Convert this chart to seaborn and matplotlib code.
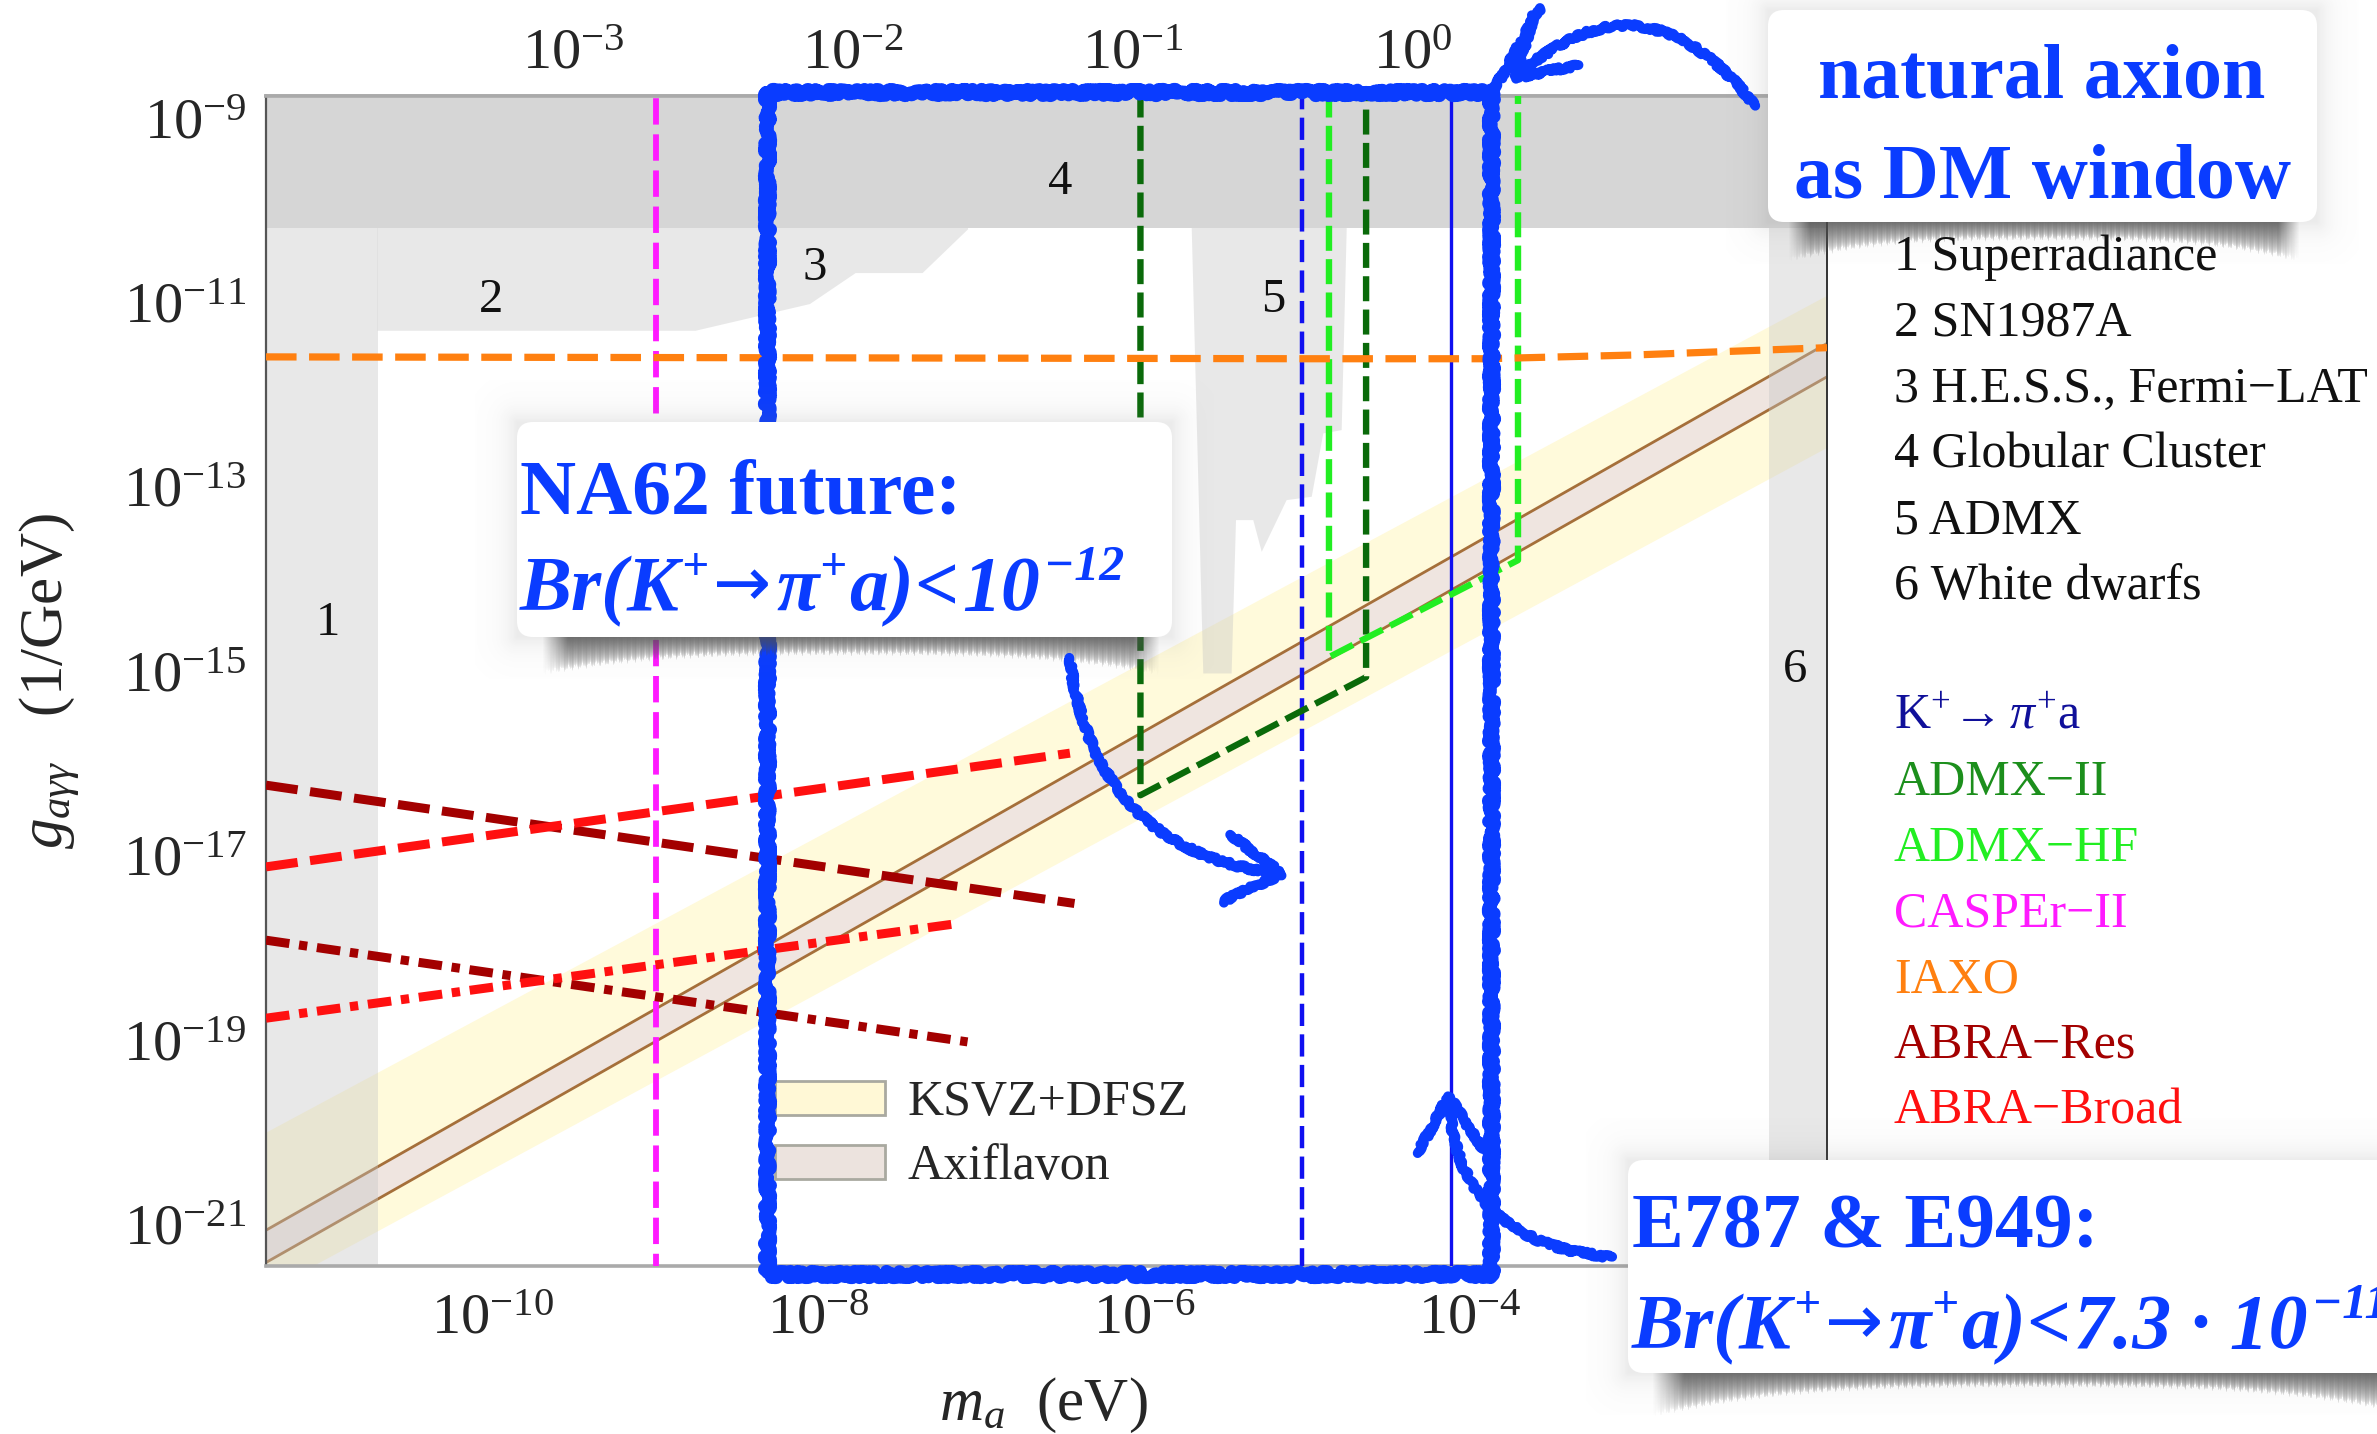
import numpy as np
import matplotlib
matplotlib.use("Agg")
import matplotlib.pyplot as plt
import seaborn as sns
from matplotlib.patches import FancyBboxPatch, FancyArrowPatch, Patch

# ---------------------------------------------------------------------------
# Data: exponents (log10) of the axion mass m_a [eV] and coupling g [1/GeV]
# ---------------------------------------------------------------------------
m_range_exp = [-11.394, -1.806]
g_range_exp = [-21.448, -8.761]

superradiance_m_exp = -10.709
globular_g_exp = -10.196
white_dwarf_m_exp = -2.162

sn1987a_m_exp = [-10.709, -10.709, -8.756]
sn1987a_g_exp = [-8.0, -11.307, -11.307]
hess_fermi_m_exp = [-8.053, -7.772, -7.361, -7.082, -7.082]
hess_fermi_g_exp = [-11.017, -10.681, -10.681, -10.207, -8.0]

admx_m_exp = [-5.708, -5.708, -5.637, -5.463, -5.436, -5.330, -5.278,
              -5.125, -4.971, -4.900, -4.787, -4.756, -4.756]
admx_g_exp = [-8.0, -10.196, -15.023, -15.023, -13.360, -13.360, -13.704,
              -13.143, -13.107, -12.420, -12.384, -10.196, -8.0]

band_m_exp = [-11.394, -1.806]
ksvz_upper_g_exp = [-19.995, -10.920]
ksvz_lower_g_exp = [-21.719, -12.569]
axiflavon_upper_g_exp = [-21.060, -11.444]
axiflavon_lower_g_exp = [-21.410, -11.806]

kpi_na62_m_exp = -5.033
kpi_e949_m_exp = -4.118
casper_m_exp = -9.0
admx2_m_exp = [-6.023, -6.023, -4.637, -4.637]
admx2_g_exp = [-8.0, -16.343, -15.063, -8.0]
admxhf_m_exp = [-4.865, -4.865, -3.704, -3.704]
admxhf_g_exp = [-8.0, -14.846, -13.794, -8.0]
iaxo_m_exp = [-11.394, -8.0, -5.0, -3.9, -3.0, -2.4, -1.806]
iaxo_g_exp = [-11.59, -11.60, -11.61, -11.61, -11.57, -11.53, -11.49]
abra_res_m_exp = [-11.394, -6.428]
abra_res_g_exp = [-16.234, -17.517]
abra_res_low_m_exp = [-11.394, -7.085]
abra_res_low_g_exp = [-17.915, -19.018]
abra_broad_m_exp = [-11.394, -6.456]
abra_broad_g_exp = [-17.120, -15.887]
abra_broad_low_m_exp = [-11.394, -7.132]
abra_broad_low_g_exp = [-18.761, -17.731]

region_labels = ["1", "2", "3", "4", "5", "6"]
region_label_m_exp = [-11.014, -10.012, -8.022, -6.517, -5.209, -2.002]
region_label_g_exp = [-14.477, -10.974, -10.627, -9.694, -10.974, -14.987]

window_m_exp = [-8.317, -3.870]
window_g_exp = [-8.718, -21.538]

bottom_ticks_exp = [-10, -8, -6, -4]
left_ticks_exp = [-9, -11, -13, -15, -17, -19, -21]
top_ticks_exp = [-3, -2, -1, 0]
top_axis_ref = (-9.509, -3.0)   # bottom exponent that lines up with top 10^-3
top_axis_decade = 1.72          # bottom decades per top decade

bounds_names = ["1 Superradiance", "2 SN1987A", "3 H.E.S.S., Fermi\u2212LAT",
                "4 Globular Cluster", "5 ADMX", "6 White dwarfs"]
exp_names = [r"K$^{+}\!\rightarrow\pi^{+}$a", "ADMX\u2212II", "ADMX\u2212HF",
             "CASPEr\u2212II", "IAXO", "ABRA\u2212Res", "ABRA\u2212Broad"]
exp_colors = ["#10109a", "#1c8f1c", "#22ee22", "#ff1aff", "#ff8010",
              "#a30000", "#ff1010"]


def E(a):
    return 10.0 ** np.asarray(a, dtype=float)


# ---------------------------------------------------------------------------
sns.set_theme(style="white")
plt.rcParams["font.family"] = ["Liberation Serif", "DejaVu Serif"]
plt.rcParams["mathtext.fontset"] = "custom"
plt.rcParams["mathtext.rm"] = "Liberation Serif"
plt.rcParams["mathtext.it"] = "Liberation Serif:italic"
plt.rcParams["mathtext.bf"] = "Liberation Serif:bold"
plt.rcParams["lines.scale_dashes"] = False

W, H = 2377, 1434
fig = plt.figure(figsize=(W / 100, H / 100), dpi=100, facecolor="white")
ax = fig.add_axes([266 / W, 1 - 1266 / H, (1827 - 266) / W, (1266 - 96) / H])
ax.set_xscale("log")
ax.set_yscale("log")
xlim = tuple(E(m_range_exp))
ylim = tuple(E(g_range_exp))


def seaborn_line(mx, gy, color, lw, dashes=None, z=3, clip=True, cap="butt"):
    sns.lineplot(x=E(mx), y=E(gy), ax=ax, color=color, linewidth=lw,
                 estimator=None, sort=False, legend=False)
    ln = ax.lines[-1]
    if dashes is not None:
        ln.set_linestyle((0, dashes))
    ln.set_zorder(z)
    ln.set_clip_on(clip)
    ln.set_dash_capstyle(cap)
    ln.set_solid_capstyle(cap)
    return ln


# benchmark bands
mb = E(band_m_exp)
ax.fill_between(mb, E(ksvz_lower_g_exp), E(ksvz_upper_g_exp),
                color="#fffadb", lw=0, zorder=1)
ax.fill_between(mb, E(axiflavon_lower_g_exp), E(axiflavon_upper_g_exp),
                color="#efe5e0", lw=0, zorder=1.1)
seaborn_line(band_m_exp, axiflavon_upper_g_exp, "#a56f3a", 2.0, z=1.2)
seaborn_line(band_m_exp, axiflavon_lower_g_exp, "#a56f3a", 2.0, z=1.2)

# excluded regions
gray = "#c4c4c4"
ga = 0.38
ax.axvspan(xlim[0], 10 ** superradiance_m_exp, color=gray, alpha=ga, lw=0, zorder=1.5)
ax.axvspan(10 ** white_dwarf_m_exp, xlim[1], color=gray, alpha=ga, lw=0, zorder=1.5)
ax.fill(E(sn1987a_m_exp + hess_fermi_m_exp), E(sn1987a_g_exp + hess_fermi_g_exp),
        color=gray, alpha=ga, lw=0, zorder=1.5)
ax.fill(E(admx_m_exp), E(admx_g_exp), color=gray, alpha=ga, lw=0, zorder=1.5)
ax.axhspan(10 ** globular_g_exp, 1e-8, color="#d6d6d6", lw=0, zorder=1.6)

# sensitivity lines
top = [-8.0, -23.0]
seaborn_line([casper_m_exp] * 2, top, "#ff1aff", 4.2, (19, 7))
seaborn_line([kpi_na62_m_exp] * 2, top, "#1010f0", 3.2, (16, 6))
seaborn_line([kpi_e949_m_exp] * 2, top, "#1010f0", 2.4)
seaborn_line(admx2_m_exp, admx2_g_exp, "#0a6a0a", 4.6, (18, 6))
seaborn_line(admxhf_m_exp, admxhf_g_exp, "#22ee22", 4.6, (18, 6))
seaborn_line(iaxo_m_exp, iaxo_g_exp, "#ff8010", 5.2, (22, 9))
seaborn_line(abra_res_m_exp, abra_res_g_exp, "#a30000", 6.5, (23, 9))
seaborn_line(abra_res_low_m_exp, abra_res_low_g_exp, "#a30000", 6.5, (17, 7, 6, 7))
seaborn_line(abra_broad_m_exp, abra_broad_g_exp, "#ff1010", 6.5, (23, 9))
seaborn_line(abra_broad_low_m_exp, abra_broad_low_g_exp, "#ff1010", 6.5, (17, 7, 6, 7))

for t, mx, gy in zip(region_labels, region_label_m_exp, region_label_g_exp):
    ax.text(10 ** mx, 10 ** gy, t, ha="center", va="center", fontsize=35,
            color="#111111", zorder=4)

ax.set_xlim(*xlim)
ax.set_ylim(*ylim)

# frame and ticks
for side, col, lw in [("left", "#555555", 1.6), ("right", "#333333", 1.4),
                      ("top", "#aaaaaa", 2.6), ("bottom", "#aaaaaa", 2.6)]:
    ax.spines[side].set_color(col)
    ax.spines[side].set_linewidth(lw)
ax.set_xticks(E(bottom_ticks_exp))
ax.set_xticklabels([rf"$10^{{{e}}}$" for e in bottom_ticks_exp])
ax.set_yticks(E(left_ticks_exp))
ax.set_yticklabels([rf"$10^{{{e}}}$" for e in left_ticks_exp])
ax.minorticks_off()
ax.tick_params(axis="x", which="major", direction="in", length=11, width=1.1,
               color="#444444", labelsize=42, pad=20, top=False)
ax.tick_params(axis="y", which="major", direction="in", length=11, width=1.1,
               color="#888888", labelsize=42, pad=14, right=False)


def to_top(m):
    lm = np.log10(np.clip(np.asarray(m, dtype=float), 1e-300, None))
    return 10 ** (top_axis_ref[1] + (lm - top_axis_ref[0]) / top_axis_decade)


def from_top(f):
    lf = np.log10(np.clip(np.asarray(f, dtype=float), 1e-300, None))
    return 10 ** (top_axis_ref[0] + (lf - top_axis_ref[1]) * top_axis_decade)


sec = ax.secondary_xaxis("top", functions=(to_top, from_top))
sec.set_xticks(E(top_ticks_exp))
sec.set_xticklabels([rf"$10^{{{e}}}$" for e in top_ticks_exp])
sec.minorticks_off()
sec.tick_params(axis="x", which="major", direction="in", length=11, width=1.1,
                color="#444444", labelsize=42, pad=11)
sec.spines["top"].set_color("#aaaaaa")
sec.spines["top"].set_linewidth(2.6)

ax.set_xlabel(r"$m_a$  (eV)", fontsize=44)
ax.xaxis.set_label_coords(0.498, -0.094)
ax.set_ylabel(r"$g_{a\gamma\gamma}$   (1/GeV)", fontsize=44)
ax.yaxis.set_label_coords(-0.118, 0.5)

leg = ax.legend(
    [Patch(facecolor="#fff8d6", edgecolor="#a9a9a0", lw=2.0),
     Patch(facecolor="#ece3de", edgecolor="#a9a9a0", lw=2.0)],
    ["KSVZ+DFSZ", "Axiflavon"], loc="upper left",
    bbox_to_anchor=((775 - 266) / 1561, 1 - (1080 - 96) / 1170),
    frameon=False, fontsize=36, handlelength=2.2, handleheight=0.65,
    handletextpad=0.45, labelspacing=0.35, borderpad=0, borderaxespad=0)
leg.set_zorder(5)

# natural axion dark matter window, marker-pen style
wl = seaborn_line([window_m_exp[0], window_m_exp[1], window_m_exp[1],
                   window_m_exp[0], window_m_exp[0]],
                  [window_g_exp[0], window_g_exp[0], window_g_exp[1],
                   window_g_exp[1], window_g_exp[0]],
                  "#0a3cff", 9.5, z=6, clip=False, cap="round")
wl.set_solid_joinstyle("round")
wl.set_sketch_params(scale=3, length=10, randomness=60)

# ---------------------------------------------------------------------------
# Annotation layer in figure pixels
# ---------------------------------------------------------------------------
ov = fig.add_axes([0, 0, 1, 1], zorder=20)
ov.set_xlim(0, W)
ov.set_ylim(H, 0)
ov.axis("off")
ov.patch.set_alpha(0)
blue = "#0a3cff"
renderer = fig.canvas.get_renderer()


def halo(x0, y0, x1, y1, spread=14, strength=0.14):
    pad = spread * 3
    X0, X1, Y0, Y1 = x0 - pad, x1 + pad, y0 - pad, y1 + pad
    gx, gy = np.meshgrid(np.arange(X0, X1) + 0.5, np.arange(Y0, Y1) + 0.5)
    dx = np.maximum(np.maximum(x0 - gx, gx - x1), 0)
    dy = np.maximum(np.maximum(y0 - gy, gy - y1), 0)
    a = strength * np.exp(-np.hypot(dx, dy) / spread)
    img = np.zeros(gx.shape + (4,))
    img[..., :3] = 0.45
    img[..., 3] = a
    ov.imshow(img, extent=(X0, X1, Y1, Y0), origin="upper", aspect="auto",
              interpolation="bilinear", zorder=1)


def torn_shadow(x0, x1, yb, d_mid, d_end):
    w = int(x1 - x0)
    h = int(d_end * 1.5)
    u = np.linspace(-1, 1, w)
    k = np.arange(w)
    depth = (d_mid + (d_end - d_mid) * np.abs(u) ** 3
             + 2.0 * np.sin(k * 0.9) + 1.4 * np.sin(k * 2.3 + 1.0))
    yy = np.arange(h)[:, None] + 0.5
    t = yy / depth[None, :]
    a = np.clip(1 - t, 0, 1) ** 0.55 * 0.82
    a *= np.clip((1 - np.abs(u)) * 12, 0, 1)[None, :]
    img = np.zeros((h, w, 4))
    img[..., :3] = 0.30
    img[..., 3] = a
    ov.imshow(img, extent=(x0, x1, yb + h, yb), origin="upper", aspect="auto",
              interpolation="bilinear", zorder=1.5)


def note_box(x0, y0, x1, y1, sh_x0, sh_x1, d_mid, d_end):
    halo(x0, y0, x1, y1)
    torn_shadow(sh_x0, sh_x1, y1 - 2, d_mid, d_end)
    ov.add_patch(FancyBboxPatch((x0, y0), x1 - x0, y1 - y0,
                                boxstyle="round,pad=0,rounding_size=16",
                                fc="white", ec="none", zorder=2))


note_box(1768, 10, 2317, 222, 1788, 2300, 18, 40)
note_box(517, 422, 1172, 637, 542, 1160, 18, 38)
note_box(1628, 1160, 2420, 1373, 1652, 2420, 14, 44)

serif = ["Liberation Serif", "DejaVu Serif"]
bold = dict(color=blue, fontweight="bold", zorder=3, fontsize=56, family=serif)
ov.text(2042, 97, "natural axion", ha="center", va="baseline", **bold)
ov.text(2043, 198, "as DM window", ha="center", va="baseline", **bold)
ov.text(520, 513, "NA62 future:", ha="left", va="baseline", **bold)
ov.text(1632, 1248, "E787 & E949:", ha="left", va="baseline", **bold)


def branching_text(x, y, bound_pieces):
    """Write Br(K+ -> pi+ a) < bound, piece by piece along one baseline."""
    it = dict(color=blue, fontweight="bold", fontstyle="italic", fontsize=56,
              family=serif, zorder=3, ha="left", va="baseline")
    sup = dict(it, fontsize=34)
    arrow = dict(color=blue, fontsize=50, family=["DejaVu Sans"], zorder=3,
                 ha="left", va="baseline")
    pieces = [("Br(K", it, 0, 1), ("+", sup, -30, 5), ("\u2192", arrow, -4, 5),
              ("\u03c0", it, 0, 1), ("+", sup, -30, 3), ("a)", it, 0, 0),
              ("<", it, 0, 4)] + bound_pieces
    for s, props, dy, gap in pieces:
        t = ov.text(x, y + dy, s, **props)
        x += t.get_window_extent(renderer=renderer).width + gap


it_props = dict(color=blue, fontweight="bold", fontstyle="italic", fontsize=56,
                family=serif, zorder=3, ha="left", va="baseline")
sup_props = dict(it_props, fontsize=36)
branching_text(520, 610, [("10", it_props, 0, 4), ("\u221212", sup_props, -30, 0)])
branching_text(1632, 1348, [("7.3 \u00b7 10", it_props, 0, 4),
                            ("\u221211", sup_props, -30, 0)])

# hand-drawn arrows
arrows = [((1757, 108), (1506, 86), 0.55),
          ((1069, 655), (1294, 875), 0.40),
          ((1615, 1257), (1448, 1084), -0.45)]
for pa, pb, rad in arrows:
    ar = FancyArrowPatch(pa, pb, connectionstyle=f"arc3,rad={rad}",
                         arrowstyle="->,head_length=1.0,head_width=0.6",
                         mutation_scale=40, lw=7, color=blue, zorder=4,
                         capstyle="round", joinstyle="round")
    ar.set_sketch_params(scale=2, length=10, randomness=40)
    ov.add_patch(ar)
stroke = ov.plot([1491, 1540], [95, 8], color=blue, lw=7, zorder=4,
                 solid_capstyle="round")[0]
stroke.set_sketch_params(scale=2, length=10, randomness=40)

# constraint and experiment key on the right
for i, s in enumerate(bounds_names):
    ov.text(1894, 270 + 65.8 * i, s, fontsize=36, color="#111111",
            ha="left", va="baseline", zorder=3)
for i, (s, c) in enumerate(zip(exp_names, exp_colors)):
    ov.text(1894, 729 + 65.8 * i, s, fontsize=36, color=c,
            ha="left", va="baseline", zorder=3)

ov.set_xlim(0, W)
ov.set_ylim(H, 0)
fig.savefig("out.png", dpi=100, facecolor="white")
